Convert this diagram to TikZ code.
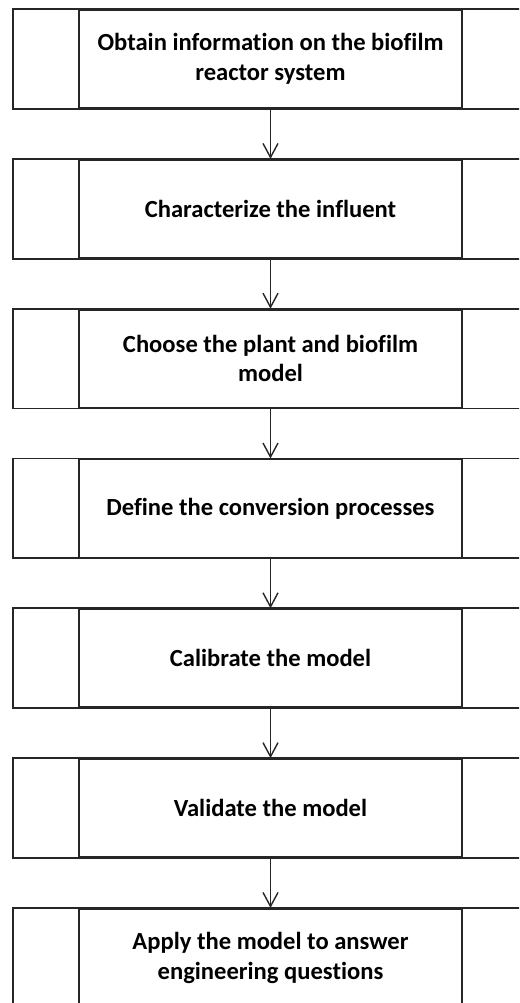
\documentclass[tikz,border=0pt]{standalone}
\usepackage{fontspec}
\setmainfont{Carlito}[Ligatures={NoCommon}]
\usetikzlibrary{arrows.meta}

\begin{document}
\begin{tikzpicture}[x=1pt,y=-1pt,
  stepbox/.style={draw=black!85,line width=1.8pt,minimum width=383pt,minimum height=98pt,
    align=center,inner sep=0pt,font=\bfseries\fontsize{24.6}{29.5}\selectfont},
  sidebox/.style={draw=black!85,line width=1.8pt},
  flow/.style={draw=black!85,line width=1.4pt,-{Straight Barb[length=14pt,width=15pt,line width=1.4pt]}}]

\useasboundingbox (0,0) rectangle (519,1003);
\clip (0,0) rectangle (519,1003);

% steps
\foreach \i/\txt in {1/{Obtain information on the biofilm\\reactor system},
    2/{Characterize the influent},
    3/{Choose the plant and biofilm\\model},
    4/{Define the conversion processes},
    5/{Calibrate the model},
    6/{Validate the model},
    7/{Apply the model to answer\\engineering questions}}
  \node[stepbox] (s\i) at (270.5,{59+(\i-1)*149.8}) {\txt};

% side frames
\foreach \i in {1,...,7}
  \draw[sidebox] ([xshift=-65pt]s\i.north west) rectangle ([xshift=65pt]s\i.south east);

% arrows
\foreach \i [evaluate=\i as \j using int(\i+1)] in {1,...,6}
  \draw[flow] (s\i) -- (s\j);

\end{tikzpicture}
\end{document}
